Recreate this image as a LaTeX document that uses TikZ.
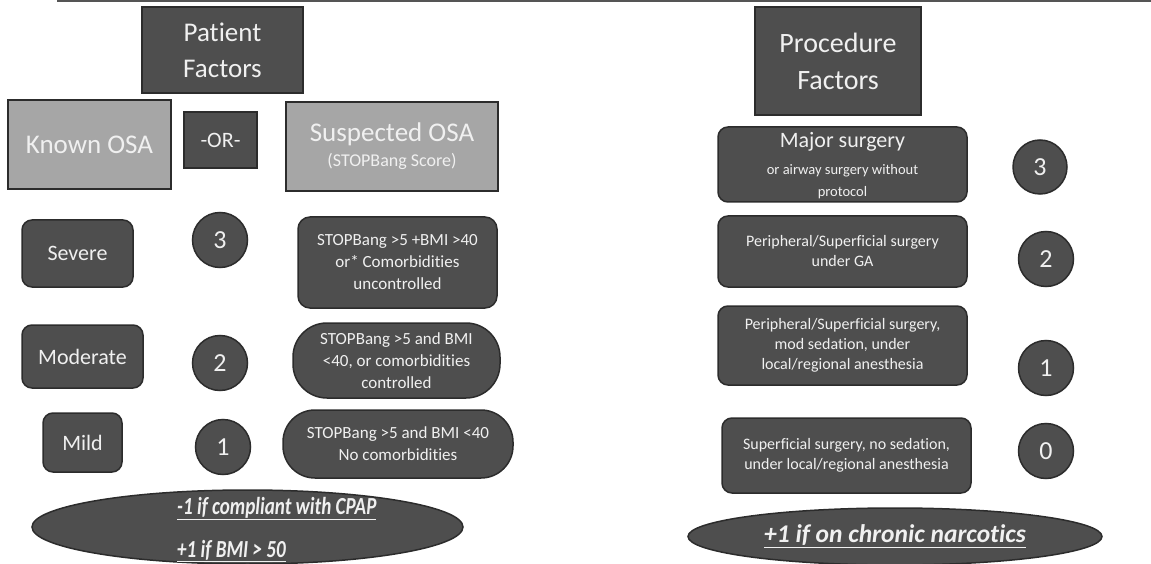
\documentclass[tikz,border=0pt]{standalone}
\usepackage{fontspec}
\setmainfont{Carlito}[Ligatures=NoCommon]
\newfontfamily\condfont{Carlito}[FakeStretch=0.78,Ligatures=NoCommon]
\usetikzlibrary{shapes.geometric}
\definecolor{boxdark}{HTML}{4E4E4E}
\definecolor{edgedark}{HTML}{2C2C2C}
\definecolor{boxgray}{HTML}{A6A6A6}
\definecolor{txt}{HTML}{F0F0F0}
\definecolor{rulegray}{HTML}{555555}
\tikzset{
  darkbox/.style={draw=edgedark, line width=1.5pt, fill=boxdark, text=txt, align=center, inner sep=0pt},
  graybox/.style={draw=edgedark, line width=2.5pt, fill=boxgray, text=txt, align=center, inner sep=0pt},
  roundbox/.style={darkbox, rounded corners=10pt},
  pillbox/.style={darkbox, rounded corners=32pt},
  score/.style={darkbox, circle, minimum size=55pt, font=\fontsize{26}{30}\selectfont},
  notebox/.style={darkbox, ellipse},
  headfont/.style={font=\fontsize{27}{36}\selectfont},
  midfont/.style={font=\fontsize{22}{26}\selectfont},
  smallfont/.style={font=\fontsize{17}{22}\selectfont},
  procfont/.style={font=\fontsize{16}{20}\selectfont},
  plaintext/.style={text=txt, inner sep=0pt},
}
\begin{document}
\begin{tikzpicture}[x=1pt,y=-1pt]
\useasboundingbox (0,0) rectangle (1151,564);
\coordinate (tl) at (57,1.5);
\coordinate (tr) at (1151,1.5);
\draw[rulegray, line width=2pt] (tl) -- (tr);

% Patient side
\node[darkbox, headfont, minimum width=161pt, minimum height=86pt] (pf) at (222.5,50) {Patient\\Factors};
\node[graybox, headfont, minimum width=163pt, minimum height=89pt] (kosa) at (89.5,144.5) {Known OSA};
\node[darkbox, font=\fontsize{22}{26}\selectfont, minimum width=73pt, minimum height=56pt] (or) at (220.5,140) {-OR-};
\node[graybox, font=\fontsize{27}{25}\selectfont, minimum width=212pt, minimum height=89pt] (sosa) at (392,146.5) {Suspected OSA\\\fontsize{18}{25}\selectfont (STOPBang Score)};

\node[roundbox, midfont, minimum width=111pt, minimum height=67pt] (severe) at (77.5,253.5) {Severe};
\node[score] (c3) at (220,240) {3};
\node[roundbox, rounded corners=12pt, smallfont, minimum width=199pt, minimum height=91pt] (sb3) at (397.5,262.5) {STOPBang >5 +BMI >40\\or* Comorbidities\\uncontrolled};

\node[roundbox, midfont, minimum width=121pt, minimum height=63pt] (moderate) at (82.5,356.5) {Moderate};
\node[score] (c2) at (220,363) {2};
\node[pillbox, rounded corners=34pt, smallfont, minimum width=207pt, minimum height=75pt] (sb2) at (396.5,360.5) {STOPBang >5 and BMI\\<40, or comorbidities\\controlled};

\node[roundbox, midfont, minimum width=79pt, minimum height=59pt] (mild) at (82.5,442.5) {Mild};
\node[score] (c1) at (223,447) {1};
\node[pillbox, smallfont, minimum width=230pt, minimum height=68pt] (sb1) at (398,444) {STOPBang >5 and BMI <40\\No comorbidities};

\node[notebox, minimum width=431pt, minimum height=74pt] (n1) at (247.5,527) {};
\node[plaintext, anchor=base west, align=left, font=\condfont\fontsize{24.5}{43}\selectfont\bfseries\itshape] (n1t) at (177,557) {\underline{-1 if compliant with CPAP}\\\underline{+1 if BMI > 50}};

% Procedure side
\node[darkbox, font=\fontsize{28}{37}\selectfont, minimum width=166pt, minimum height=108pt] (prf) at (838,61) {Procedure\\Factors};

\node[roundbox, minimum width=249pt, minimum height=75pt] (maj) at (842.5,164.5) {};
\node[plaintext, anchor=base, align=center, font=\fontsize{14.5}{22}\selectfont] (majt) at (842.5,197) {\fontsize{22}{22}\selectfont Major surgery\\[5pt]or airway surgery without\\protocol};
\node[score, minimum size=54pt] (r3) at (1040,167) {3};

\node[roundbox, procfont, minimum width=249pt, minimum height=71pt] (ga) at (842.5,251.5) {Peripheral/Superficial surgery\\under GA};
\node[score] (r2) at (1046,259) {2};

\node[roundbox, procfont, minimum width=249pt, minimum height=79pt] (mod) at (842.5,345.5) {Peripheral/Superficial surgery,\\mod sedation, under\\local/regional anesthesia};
\node[score] (r1) at (1046,368) {1};

\node[roundbox, procfont, minimum width=249pt, minimum height=75pt] (sup) at (846.5,455.5) {Superficial surgery, no sedation,\\under local/regional anesthesia};
\node[score] (r0) at (1046,451) {0};

\node[notebox, minimum width=414pt, minimum height=57pt, font=\fontsize{25.5}{28}\selectfont\bfseries\itshape] (n2) at (895,536.5) {\underline{+1 if on chronic narcotics}};
\end{tikzpicture}
\end{document}
